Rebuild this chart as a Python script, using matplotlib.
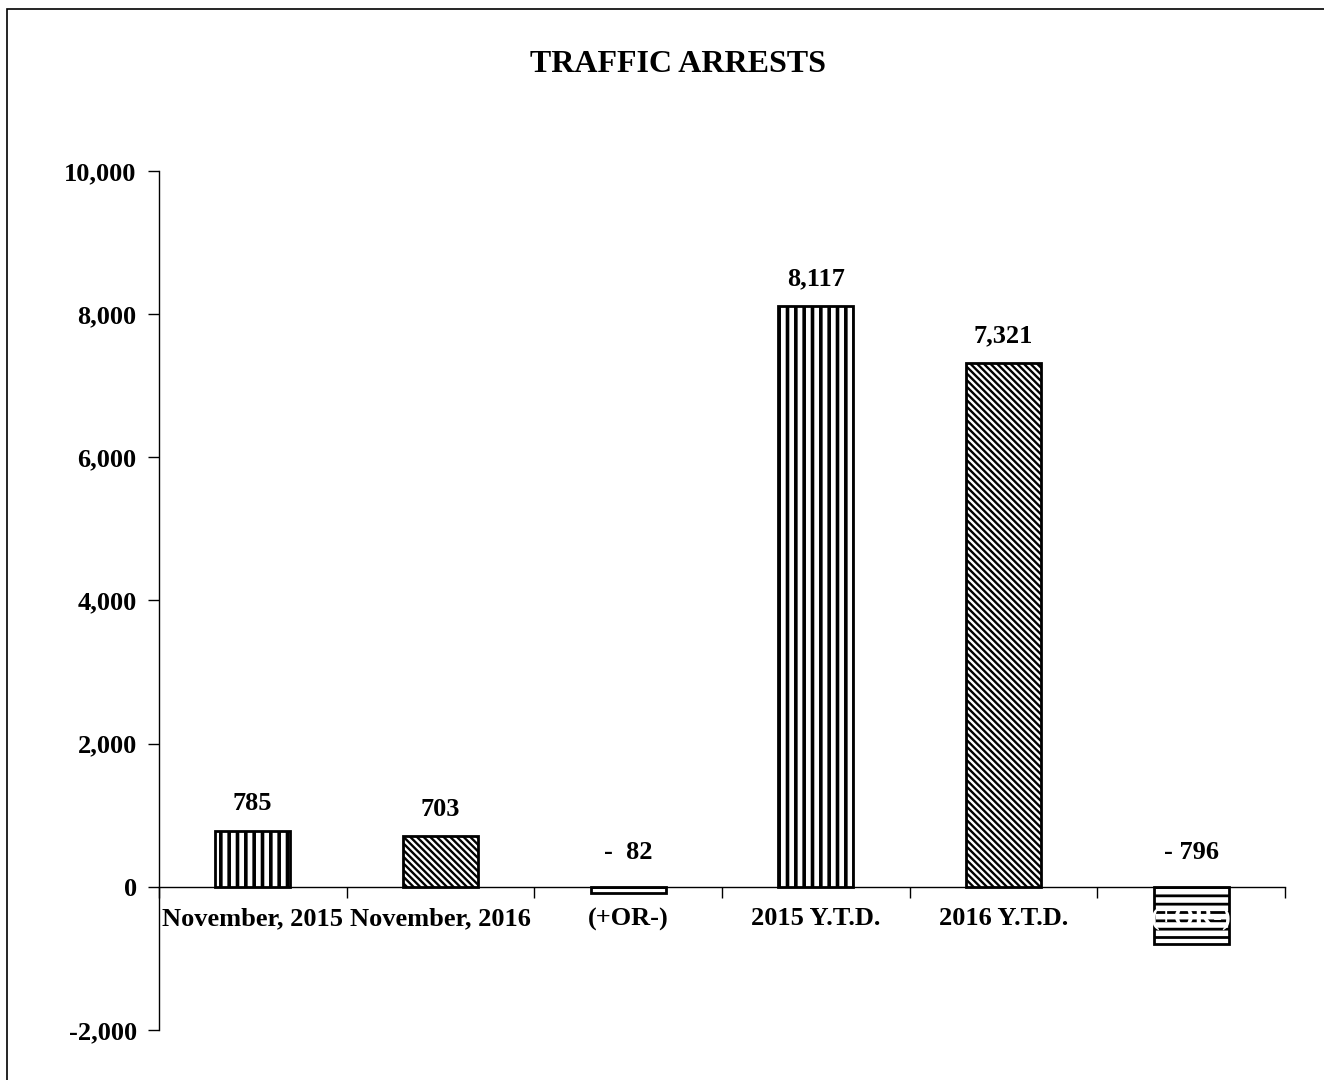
import matplotlib.pyplot as plt
from matplotlib.patches import Rectangle

# data
categories = ["November, 2015", "November, 2016", "(+OR-)",
              "2015 Y.T.D.", "2016 Y.T.D.", "(+OR-)"]
values = [785, 703, -82, 8117, 7321, -796]
value_labels = ["785", "703", "-  82", "8,117", "7,321", "- 796"]
hatches = ["||", "\\\\\\\\\\", "--", "||", "\\\\\\\\\\", "--"]
hatch_widths = [2.6, 1.7, 2.0, 2.6, 1.7, 2.0]

plt.rcParams['font.family'] = ['Liberation Serif', 'DejaVu Serif']
plt.rcParams['font.weight'] = 'bold'
plt.rcParams['hatch.linewidth'] = 2.2

fig = plt.figure(figsize=(13.24, 10.8), dpi=100)
ax = fig.add_axes([0.120, 0.0463, 0.8505, 0.7954])

x = list(range(len(values)))
bars = ax.bar(x, values, width=0.4, color='white', edgecolor='black',
              linewidth=2, zorder=3)
for b, h, hw in zip(bars, hatches, hatch_widths):
    b.set_hatch(h)
    if hasattr(b, 'set_hatch_linewidth'):
        b.set_hatch_linewidth(hw)

for xi, v, lab in zip(x, values, value_labels):
    ypos = v + 220 if v > 0 else 320
    ax.text(xi, ypos, lab, ha='center', va='bottom', fontsize=19,
            fontweight='bold')

# category labels sit just under the zero line; the last one is hidden by its bar
for xi, v, c in zip(x, values, categories):
    covered = v < -300
    ax.text(xi, -540, c, ha='center', va='baseline', fontsize=19,
            fontweight='bold', color='white' if covered else 'black',
            zorder=4 if covered else 1)

ax.set_xlim(-0.5, len(values) - 0.5)
ax.set_ylim(-2000, 10000)
ax.set_yticks([-2000, 0, 2000, 4000, 6000, 8000, 10000])
ax.set_yticklabels(["-2,000", "0", "2,000", "4,000", "6,000", "8,000", "10,000"],
                   fontsize=19, fontweight='bold')
ax.set_xticks([i + 0.5 for i in range(-1, len(values))])
ax.set_xticklabels([])
ax.tick_params(axis='x', direction='out', length=8, width=1)
ax.tick_params(axis='y', direction='out', length=8, width=1, pad=8)

ax.spines['top'].set_visible(False)
ax.spines['right'].set_visible(False)
ax.spines['bottom'].set_position(('data', 0))
ax.spines['bottom'].set_linewidth(1)
ax.spines['left'].set_linewidth(1)

fig.text(0.512, 0.94, "TRAFFIC ARRESTS", ha='center', va='center',
         fontsize=23, fontweight='bold')

# outer frame of the page
fig.patches.append(Rectangle((0.005, -0.01), 1.2, 1.002, transform=fig.transFigure,
                             fill=False, edgecolor='black', linewidth=1.2))

plt.savefig('out.png')
